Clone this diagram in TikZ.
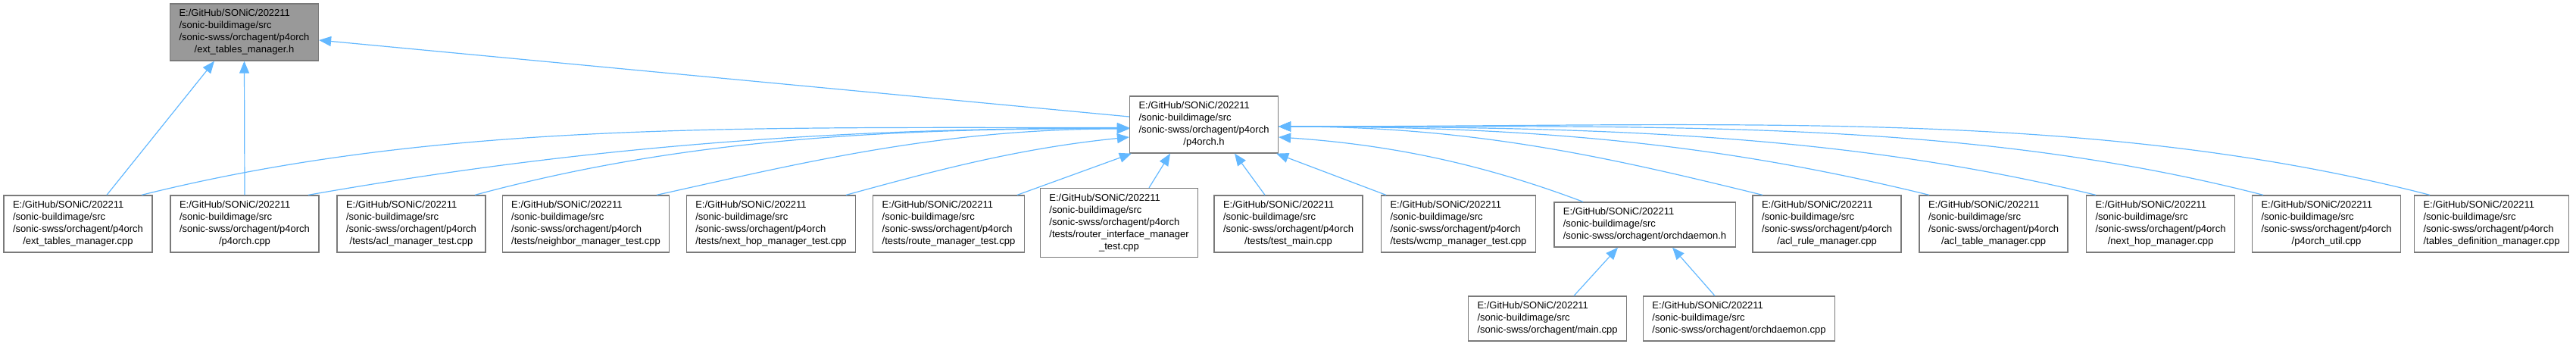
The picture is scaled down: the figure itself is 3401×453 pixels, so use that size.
\documentclass[tikz,border=0pt]{standalone}
\usepackage{fontspec}
\setmainfont{Liberation Sans}
\usepackage{tikz}
\usetikzlibrary{arrows.meta}
\definecolor{edgeblue}{HTML}{63B8FF}
\definecolor{boxline}{HTML}{7A7A7A}
\definecolor{boxhi}{HTML}{999999}

% file label: fixed prefix, left lines, centred last line
\newcommand{\srcpath}[2]{\begin{tabular}{@{}l@{}}E:/GitHub/SONiC/202211\\/sonic-buildimage/src\\#1\multicolumn{1}{@{}c@{}}{#2}\end{tabular}}
\newcommand{\pfpath}[1]{\srcpath{/sonic-swss/orchagent/p4orch\\}{#1}}

\begin{document}
\begin{tikzpicture}[
  x=1pt, y=-1pt,
  font=\fontsize{13}{16}\selectfont,
  file/.style={draw=boxline, line width=1.3pt, fill=white,
               inner xsep=12pt, inner ysep=5.5pt},
  cur/.style={file, fill=boxhi},
  dep/.style={draw=edgeblue, line width=1.2pt,
              -{Triangle[length=16pt,width=13pt]}}
]
\useasboundingbox (0,0) rectangle (3401,453);

% ================= top: headers =================
\node[cur]  (eth) at (322.5,42.5)  {\pfpath{/ext\_tables\_manager.h}};
\node[file] (p4h) at (1589.5,164.5) {\pfpath{/p4orch.h}};

% ================= middle row: includers =================
\node[file] (etc)  at (103,295.5)    {\pfpath{/ext\_tables\_manager.cpp}};
\node[file] (p4c)  at (323,295.5)    {\pfpath{/p4orch.cpp}};
\node[file] (aclt) at (543,295.5)    {\pfpath{/tests/acl\_manager\_test.cpp}};
\node[file] (nbt)  at (773.5,295.5)  {\pfpath{/tests/neighbor\_manager\_test.cpp}};
\node[file] (nht)  at (1018,295.5)   {\pfpath{/tests/next\_hop\_manager\_test.cpp}};
\node[file] (rmt)  at (1252.5,295.5) {\pfpath{/tests/route\_manager\_test.cpp}};
\node[file] (rit)  at (1477.5,294)
  {\srcpath{/sonic-swss/orchagent/p4orch\\/tests/router\_interface\_manager\\}{\_test.cpp}};
\node[file] (tm)   at (1701,295.5)   {\pfpath{/tests/test\_main.cpp}};
\node[file] (wt)   at (1925.5,295.5) {\pfpath{/tests/wcmp\_manager\_test.cpp}};
\node[file] (odh)  at (2171.5,296.5) {\srcpath{}{/sonic-swss/orchagent/orchdaemon.h}};
\node[file] (arm)  at (2412,295.5)   {\pfpath{/acl\_rule\_manager.cpp}};
\node[file] (atm)  at (2632,295.5)   {\pfpath{/acl\_table\_manager.cpp}};
\node[file] (nhm)  at (2852.5,295.5) {\pfpath{/next\_hop\_manager.cpp}};
\node[file] (pu)   at (3071.5,295.5) {\pfpath{/p4orch\_util.cpp}};
\node[file] (tdm)  at (3289.5,295.5) {\pfpath{/tables\_definition\_manager.cpp}};

% ================= bottom row =================
\node[file] (mc)  at (2043,420.5) {\srcpath{}{/sonic-swss/orchagent/main.cpp}};
\node[file] (odc) at (2296,420.5) {\srcpath{}{/sonic-swss/orchagent/orchdaemon.cpp}};

% --- edges into ext_tables_manager.h ---
\draw[dep] ([xshift=38pt]etc.north) -- ([xshift=-39.5pt]eth.south);
\draw[dep] (p4c.north) -- (eth.south);
\draw[dep] ([yshift=10.5pt]p4h.west) -- ([yshift=-10.5pt]eth.east);

% --- edges into p4orch.h, left side ---
\draw[dep] ([xshift=84pt]etc.north) .. controls +(390,-97) and +(-520,0) .. ([yshift=-4pt]p4h.west);
\draw[dep] ([xshift=84pt]p4c.north) .. controls +(330,-58) and +(-430,0) .. ([yshift=-4.5pt]p4h.west);
\draw[dep] ([xshift=84pt]aclt.north) .. controls +(260,-70) and +(-350,0) .. ([yshift=-5pt]p4h.west);
\draw[dep] ([xshift=93.5pt]nbt.north) .. controls +(190,-42) and +(-250,0) .. ([yshift=-5.5pt]p4h.west);
\draw[dep] ([xshift=99pt]nht.north) .. controls +(110,-30) and +(-150,15) .. ([yshift=-16.5pt]p4h.west);
\draw[dep] ([xshift=90.5pt]rmt.north) -- ([xshift=3pt]p4h.south west);
\draw[dep] ([xshift=39.5pt]rit.north) -- ([xshift=-44.5pt]p4h.south);
\draw[dep] ([xshift=-31pt]tm.north) -- ([xshift=40.5pt]p4h.south);
\draw[dep] ([xshift=7pt]wt.north west) -- ([xshift=-3pt]p4h.south east);

% --- edges into p4orch.h, right side ---
\draw[dep] ([xshift=39pt]odh.north west) .. controls +(-130,-49) and +(150,10) .. ([yshift=-16.5pt]p4h.east);
\draw[dep] ([xshift=-85pt]arm.north) .. controls +(-200,-49) and +(260,0) .. ([yshift=-2.5pt]p4h.east);
\draw[dep] ([xshift=-85pt]atm.north) .. controls +(-270,-66) and +(350,0) .. ([yshift=-2.5pt]p4h.east);
\draw[dep] ([xshift=-85.5pt]nhm.north) .. controls +(-330,-80) and +(430,0) .. ([yshift=-2.5pt]p4h.east);
\draw[dep] ([xshift=-83.5pt]pu.north) .. controls +(-390,-100) and +(520,0) .. ([yshift=-2.5pt]p4h.east);
\draw[dep] ([xshift=-81.5pt]tdm.north) .. controls +(-450,-116) and +(600,0) .. ([yshift=-2.5pt]p4h.east);

% --- edges into orchdaemon.h ---
\draw[dep] ([xshift=35pt]mc.north) -- ([xshift=-35.5pt]odh.south);
\draw[dep] ([xshift=-32pt]odc.north) -- ([xshift=36.5pt]odh.south);

\end{tikzpicture}
\end{document}
